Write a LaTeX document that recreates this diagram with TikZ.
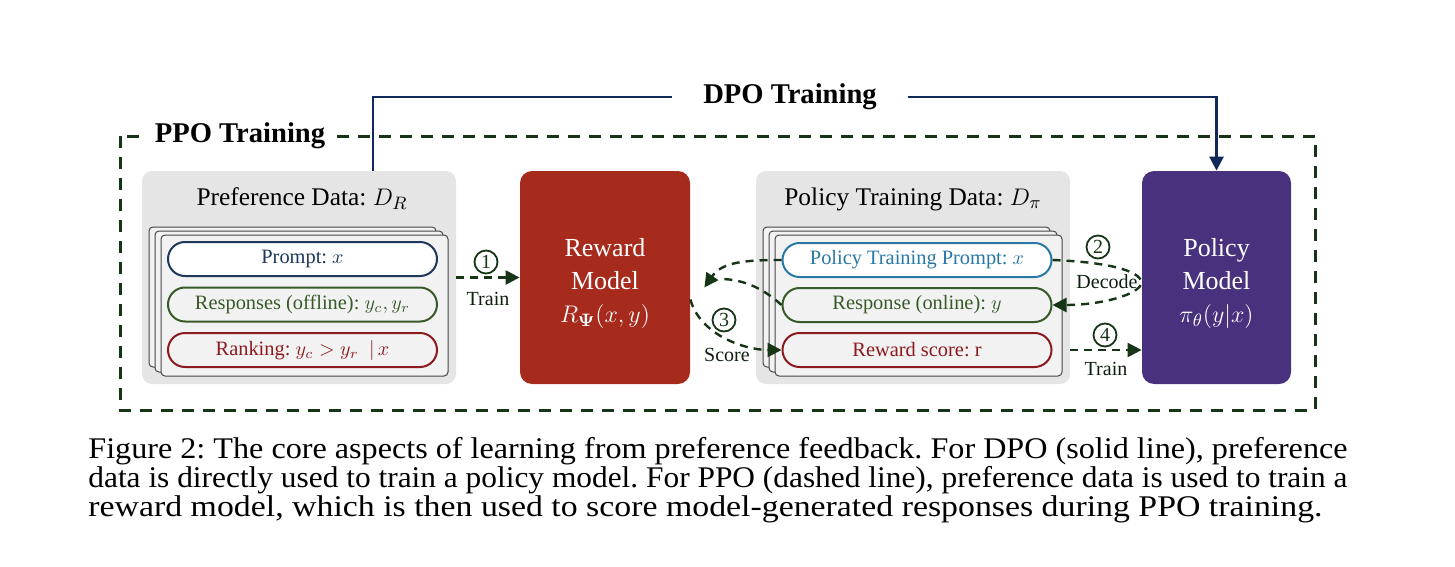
\documentclass[tikz,border=0pt]{standalone}
\usepackage[no-math]{fontspec}
\setmainfont{Liberation Serif}
\usetikzlibrary{arrows.meta}
\definecolor{ppogreen}{RGB}{22,52,22}
\definecolor{dponavy}{RGB}{16,40,90}
\definecolor{boxgray}{RGB}{229,229,229}
\definecolor{cardfill}{RGB}{242,242,242}
\definecolor{cardedge}{RGB}{70,70,70}
\definecolor{rewardred}{RGB}{166,43,29}
\definecolor{policypurple}{RGB}{72,49,125}
\definecolor{pnavy}{RGB}{30,55,90}
\definecolor{pgreen}{RGB}{55,90,40}
\definecolor{pred}{RGB}{140,25,30}
\definecolor{pblue}{RGB}{40,120,165}
\frenchspacing
\begin{document}
\begin{tikzpicture}[x=0.5pt,y=-0.5pt,
 databox/.style={fill=boxgray, rounded corners=5pt, minimum width=157pt, minimum height=106.5pt, inner sep=0pt},
 modelbox/.style={rounded corners=6pt, minimum height=106.5pt, inner sep=0pt},
 modeltext/.style={text=white, align=center, font=\fontsize{13}{16.5}\selectfont, inner sep=0pt},
 card/.style={draw=cardedge, fill=cardfill, line width=0.5pt, rounded corners=2pt},
 pill/.style={line width=1pt, rounded corners=8.5pt, minimum width=134.5pt, minimum height=17pt, inner sep=0pt, font=\fontsize{10.2}{12}\selectfont},
 ttl/.style={font=\fontsize{12.7}{15}\selectfont, inner sep=0pt},
 lbl/.style={font=\fontsize{10}{12}\selectfont, text=ppogreen!60!black, inner sep=0pt},
 circnum/.style={circle, draw=ppogreen, line width=0.9pt, inner sep=0pt, minimum size=11.5pt, font=\fontsize{10}{10}\selectfont, text=ppogreen},
 ppodash/.style={draw=ppogreen, line width=1.2pt, dash pattern=on 4pt off 3pt},
 ppoline/.style={ppodash, -{Triangle[length=7pt,width=7pt]}},
 dpoline/.style={draw=dponavy, line width=1.4pt},
 bigl/.style={font=\bfseries\fontsize{14.3}{16}\selectfont, fill=white, inner ysep=2pt},
 captext/.style={anchor=base west, inner sep=0pt, font=\fontsize{15}{14.5}\selectfont}
]
\useasboundingbox (0,0) rectangle (1455,567);

% PPO frame
\draw[draw=ppogreen, line width=1.5pt, dash pattern=on 6pt off 4.5pt] (120,136) rectangle (1315,410);
\node[bigl, inner xsep=6pt] (ppolabel) at (240,136) {PPO Training};

% Preference data
\node[databox] (pref) at (299,277.5) {};
\node[ttl] (preftitle) at (302,199) {Preference Data: $D_R$};
\draw[card] (149,227) rectangle (436,367);
\draw[card] (155,231) rectangle (443,372);
\draw[card] (161,235) rectangle (448,376);
\node[pill, draw=pnavy, fill=white, text=pnavy] (prompt) at (302.5,259) {Prompt: $x$};
\node[pill, draw=pgreen, fill=cardfill, text=pgreen] (resps) at (302.5,304.5) {Responses (offline): $y_c, y_r$};
\node[pill, draw=pred, fill=cardfill, text=pred] (rank) at (302.5,350) {Ranking: $y_c > y_r~~|\,x$};

% Reward model
\node[modelbox, fill=rewardred, minimum width=85pt] (reward) at (605,277.5) {};
\node[modeltext] (rewardtxt) at (605,283) {Reward\\Model\\$R_{\mathbf{\Psi}}(x,y)$};

% Policy training data
\node[databox] (pdata) at (913,277.5) {};
\node[ttl] (pdatatitle) at (913,199) {Policy Training Data: $D_{\pi}$};
\draw[card] (763,227) rectangle (1050,367);
\draw[card] (769,231) rectangle (1057,372);
\draw[card] (775,235) rectangle (1062,376);
\node[pill, draw=pblue, fill=white, text=pblue] (ptprompt) at (917,260) {Policy Training Prompt: $x$};
\node[pill, draw=pgreen, fill=cardfill, text=pgreen] (resp) at (917,305) {Response (online): $y$};
\node[pill, draw=pred, fill=cardfill, text=pred] (score) at (917,350) {Reward score: r};

% Policy model
\node[modelbox, fill=policypurple, minimum width=74.5pt] (policy) at (1216.5,277.5) {};
\node[modeltext] (policytxt) at (1216.5,283) {Policy\\Model\\$\pi_{\theta}(y|x)$};

% DPO path
\coordinate (dpostart) at (373,171);
\node[bigl, inner xsep=15.5pt] (dpolabel) at (790,97) {DPO Training};
\draw[dpoline] (dpostart) |- (dpolabel.west);
\draw[dpoline, -{Triangle[length=7pt,width=7pt]}] (dpolabel.east) -| (policy.north);

% Step 1
\draw[ppoline] (pref.east) -- (reward.west);
\node[circnum] (c1) at (486,262) {1};
\node[lbl] (train1) at (488,299) {Train};

% Step 2
\draw[ppoline] (ptprompt.east) .. controls (1105,262) and (1140,270) .. ([yshift=-2.5pt]policy.west) .. controls (1140,295) and (1100,305) .. (resp.east);
\node[circnum] (c2) at (1098,247) {2};
\node[lbl] (decode) at (1107,282) {Decode};

% Step 3
\coordinate (merge) at (720,279);
\draw[ppoline] (ptprompt.west) .. controls (745,260) and (722,262) .. ([shift={(7pt,-5pt)}]reward.east);
\draw[ppodash] (resp.west) .. controls (765,290) and (745,279) .. (merge);
\draw[ppoline] ([yshift=-11pt]reward.east) .. controls (700,335) and (745,350) .. (score.west);
\node[circnum] (c3) at (724,320) {3};
\node[lbl] (scorelbl) at (727,355) {Score};

% Step 4
\draw[ppoline] (pdata.east |- score.center) -- (policy.west |- score.center);
\node[circnum] (c4) at (1105,335) {4};
\node[lbl] (train4) at (1106,369) {Train};

% Caption
\node[captext] (cap1) at (88,458) {\resizebox{629.5pt}{\height}{Figure 2: The core aspects of learning from preference feedback. For DPO (solid line), preference}};
\node[captext] (cap2) at (88,487) {\resizebox{629.5pt}{\height}{data is directly used to train a policy model. For PPO (dashed line), preference data is used to train a}};
\node[captext] (cap3) at (88,516) {\resizebox{617pt}{\height}{reward model, which is then used to score model-generated responses during PPO training.}};
\end{tikzpicture}
\end{document}
